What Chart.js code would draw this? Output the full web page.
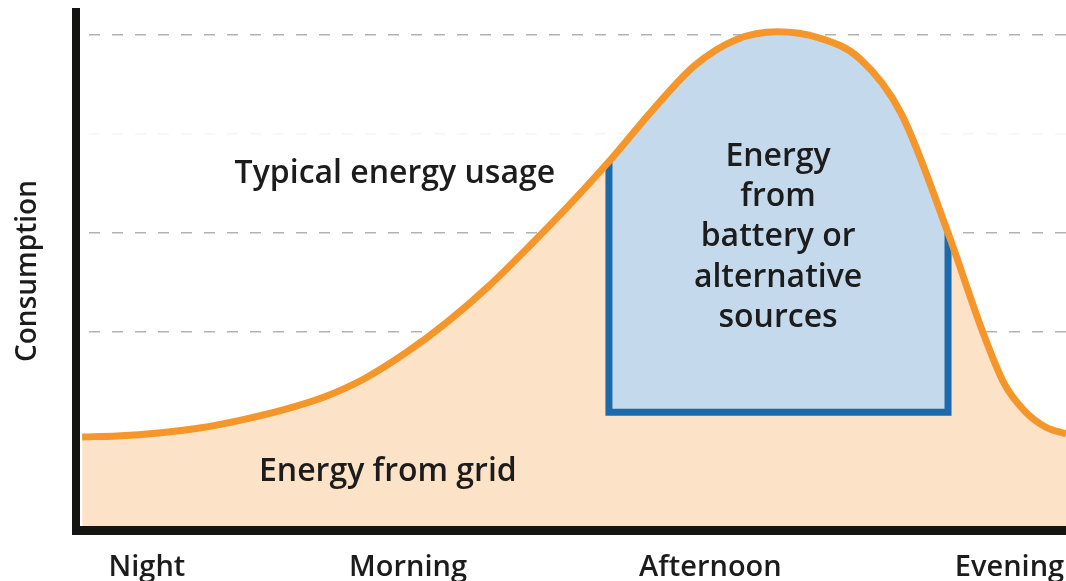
<!DOCTYPE html>
<html>
<head>
<meta charset="utf-8">
<script src="https://cdn.jsdelivr.net/npm/chart.js@4.4.1/dist/chart.umd.min.js"></script>
<style>
  html, body { margin: 0; padding: 0; background: #ffffff; }
  #c { display: block; }
</style>
</head>
<body>
<canvas id="c" width="1066" height="581"></canvas>
<script>
// ---- data (x = hour of the day, y = relative consumption) ----
const hours = [0.15, 1, 2, 3, 4, 5, 6, 7, 8, 9, 10, 11, 12, 12.92, 14, 15, 16, 17, 18, 19, 20, 21.14,
               22, 22.5, 23, 23.5, 24];
const usage = [0.94, 0.95, 0.98, 1.03, 1.11, 1.21, 1.34, 1.53, 1.79, 2.10, 2.46, 2.87, 3.30, 3.72,
               4.25, 4.69, 4.95, 5.03, 4.97, 4.76, 4.21, 3.00,
               1.98, 1.48, 1.20, 1.04, 0.97];
const batteryStart = 12.92;
const batteryEnd = 21.14;
const batteryBase = 1.19;
const periodLabels = ['Night', 'Morning', 'Afternoon', 'Evening'];
const periodHours = [1.72, 8.05, 15.38, 22.63];
const gridLevels = [2, 3, 4, 5];
const axisTitle = 'Consumption';
const noteTexts = [['Typical energy usage'], ['Energy from grid'],
                   ['Energy', 'from', 'battery or', 'alternative', 'sources']];
const noteHours = [7.73, 7.56, 17.02];
const noteLevels = [3.60, 0.585, 3.77];

// ---- derived series ----
const curvePts = hours.map((h, i) => ({ x: h, y: usage[i] }));
const batteryPts = curvePts.filter(p => p.x >= batteryStart && p.x <= batteryEnd);
const usageAt = h => usage[hours.indexOf(h)];
const batteryEdge = [
  { x: batteryStart, y: usageAt(batteryStart) },
  { x: batteryStart, y: batteryBase },
  { x: batteryEnd, y: batteryBase },
  { x: batteryEnd, y: usageAt(batteryEnd) }
];

const TEXT = '#1c1c1c';
const FONT = '"Open Sans", "Noto Sans", sans-serif';

const notesPlugin = {
  id: 'notes',
  afterDatasetsDraw(chart) {
    const { ctx, scales: { x, y } } = chart;
    ctx.save();
    ctx.font = '600 32px ' + FONT;
    ctx.fillStyle = TEXT;
    ctx.textAlign = 'center';
    ctx.textBaseline = 'middle';
    noteTexts.forEach((lines, i) => {
      const px = x.getPixelForValue(noteHours[i]);
      const py = y.getPixelForValue(noteLevels[i]);
      lines.forEach((t, k) => ctx.fillText(t, px, py + k * 40.3));
    });
    ctx.restore();
  }
};

new Chart(document.getElementById('c'), {
  type: 'line',
  data: {
    datasets: [
      { // grid energy area
        data: curvePts, order: 4,
        borderWidth: 0, pointRadius: 0, fill: 'start',
        backgroundColor: '#fce2c6', cubicInterpolationMode: 'monotone'
      },
      { // battery area
        data: batteryPts, order: 3,
        borderWidth: 0, pointRadius: 0, fill: { value: batteryBase },
        backgroundColor: '#c4d9eb', cubicInterpolationMode: 'monotone'
      },
      { // battery outline
        data: batteryEdge, order: 2,
        borderColor: '#1c69ab', borderWidth: 7, pointRadius: 0, fill: false,
        tension: 0, borderJoinStyle: 'miter'
      },
      { // typical usage curve
        data: curvePts, order: 1,
        borderColor: '#f5962a', borderWidth: 7, pointRadius: 0, fill: false,
        cubicInterpolationMode: 'monotone'
      }
    ]
  },
  options: {
    responsive: false,
    animation: false,
    events: [],
    layout: { padding: { top: 12, left: 0, right: 0, bottom: 0 } },
    plugins: { legend: { display: false }, tooltip: { enabled: false } },
    scales: {
      x: {
        type: 'linear', min: 0, max: 24,
        grid: { display: false },
        border: { display: true, color: '#141512', width: 9, z: 1 },
        afterBuildTicks: s => { s.ticks = periodHours.map(v => ({ value: v })); },
        afterFit: s => { s.height = 51; s.paddingLeft = 0; s.paddingRight = 0; },
        ticks: {
          autoSkip: false, maxRotation: 0, padding: 12, color: TEXT,
          font: { family: FONT, size: 29, weight: '600' },
          callback: (v, i) => periodLabels[i]
        }
      },
      y: {
        type: 'linear', min: 0, max: 5.23,
        afterBuildTicks: s => { s.ticks = gridLevels.map(v => ({ value: v })); },
        afterFit: s => { s.width = 76; s.paddingTop = 0; s.paddingBottom = 0; },
        ticks: { display: false },
        grid: {
          drawTicks: false, lineWidth: 1.5,
          color: c => (c.tick && c.tick.value === 4) ? 'rgba(0,0,0,0.04)' : '#b2b2b2'
        },
        border: { display: true, color: '#141512', width: 8, z: 1, dash: [11, 12], dashOffset: 14 },
        title: {
          display: true, text: axisTitle, color: TEXT,
          font: { family: FONT, size: 28, weight: '600' },
          padding: { top: 11, bottom: 0 }
        }
      }
    }
  },
  plugins: [notesPlugin]
});
</script>
</body>
</html>
